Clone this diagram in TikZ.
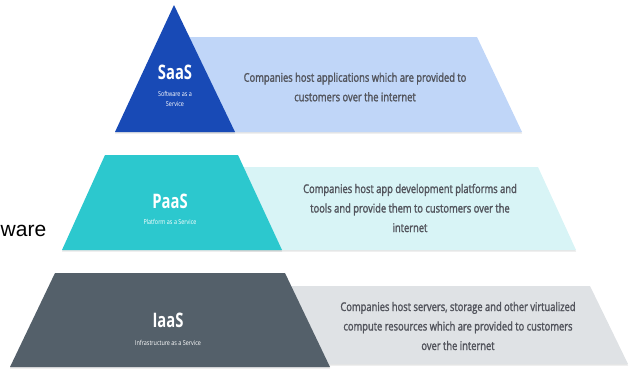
\documentclass[tikz,border=0pt]{standalone}
\usepackage{fontspec}
\setmainfont{Open Sans}
\newfontfamily\titlefont{Open Sans}[FakeStretch=0.74]
\newfontfamily\subfont{Open Sans}[FakeStretch=0.8]
\newfontfamily\bandfont{Open Sans}[FakeStretch=0.78,FakeBold=1.6]
\newfontfamily\slidefont{Liberation Sans}
\usetikzlibrary{shadows}

\definecolor{saasblue}{RGB}{24,74,182}
\definecolor{saasband}{RGB}{192,214,248}
\definecolor{paasteal}{RGB}{44,200,206}
\definecolor{paasband}{RGB}{216,244,246}
\definecolor{iaasgray}{RGB}{84,96,106}
\definecolor{iaasband}{RGB}{223,226,229}
\definecolor{textgray}{RGB}{82,84,92}

\begin{document}
\begin{tikzpicture}[x=1pt,y=-1pt,
  layer/.style={drop shadow={opacity=0.2,shadow xshift=0pt,shadow yshift=-1.5pt}},
  title/.style={text=white,font=\titlefont\bfseries\fontsize{20}{20}\selectfont},
  subtitle/.style={text=white,font=\subfont\fontsize{6.8}{10}\selectfont,align=center},
  bandtext/.style={text=textgray,font=\bandfont\fontsize{12}{19.5}\selectfont,align=center}]
\useasboundingbox (0,0) rectangle (630,375);

%% bands
\fill[saasband,layer] (180,37) -- (477,37) -- (522,132) -- (180,132) -- cycle;   %% saas
\fill[paasband,layer] (230,167) -- (538,167) -- (576,250) -- (230,250) -- cycle; %% paas
\fill[iaasband,layer] (270,286) -- (590,286) -- (628,364) -- (270,364) -- cycle; %% iaas

%% pyramid
\fill[saasblue,layer] (174,5) -- (235,132) -- (115,132) -- cycle;                 %% saas
\fill[paasteal,layer] (105,155) -- (238,155) -- (282,250) -- (62,250) -- cycle;   %% paas
\fill[iaasgray,layer] (55,273) -- (285,273) -- (330,367) -- (10,367) -- cycle;    %% iaas

%% titles
\node[title] (saas) at (175,72) {SaaS};
\node[subtitle] (saassub) at (175,99) {Software as a\\Service};
\node[title] (paas) at (170,201) {PaaS};
\node[subtitle] (paassub) at (170,222) {Platform as a Service};
\node[title] (iaas) at (168,320) {IaaS};
\node[subtitle] (iaassub) at (168,343) {Infrastructure as a Service};

%% descriptions
\node[bandtext] (saasinfo) at (355,87) {Companies host applications which are provided to\\customers over the internet};
\node[bandtext] (paasinfo) at (410,208) {Companies host app development platforms and\\tools and provide them to customers over the\\internet};
\node[bandtext] (iaasinfo) at (458,326) {Companies host servers, storage and other virtualized\\compute resources which are provided to customers\\over the internet};

%% cut-off slide text
\node[font=\slidefont\fontsize{21}{21}\selectfont,anchor=base west,inner sep=0pt] (ware) at (0.5,236) {ware};
\end{tikzpicture}
\end{document}
